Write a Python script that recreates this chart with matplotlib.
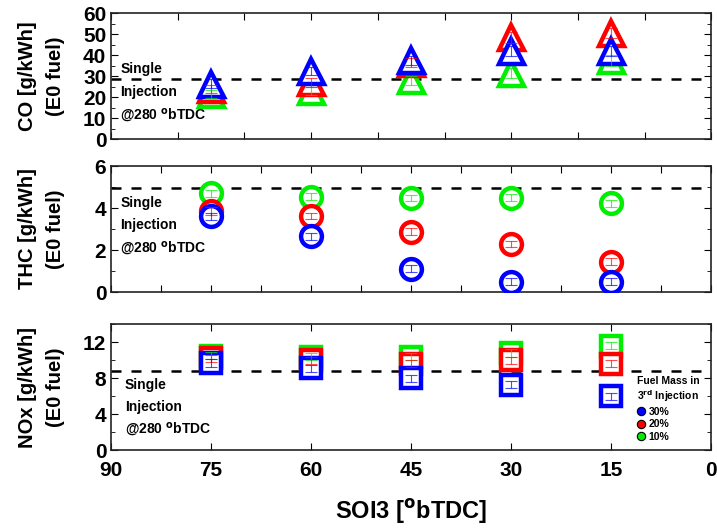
import matplotlib.pyplot as plt
from matplotlib.ticker import MultipleLocator
from matplotlib.lines import Line2D

plt.rcParams['font.family'] = ['Liberation Sans', 'DejaVu Sans']
plt.rcParams['font.weight'] = 'bold'
plt.rcParams['mathtext.default'] = 'bf'

soi3 = [75, 60, 45, 30, 15]
labels = ['30%', '20%', '10%']
colors = ['#0000ff', '#ff0000', '#00ee00']

co_30 = [26.5, 32.5, 37.5, 42.0, 42.0]
co_20 = [24.0, 27.0, 36.5, 48.5, 50.5]
co_10 = [21.5, 23.0, 28.0, 31.5, 37.5]
co_err = [2.0, 2.0, 2.0, 2.5, 2.5]
co_single = 28.5

thc_30 = [3.6, 2.65, 1.12, 0.5, 0.5]
thc_20 = [3.85, 3.62, 2.88, 2.3, 1.45]
thc_10 = [4.7, 4.55, 4.47, 4.5, 4.22]
thc_err = [0.18, 0.15, 0.15, 0.15, 0.15]
thc_single = 4.97

nox_30 = [9.7, 9.1, 8.0, 7.3, 6.0]
nox_20 = [10.2, 10.0, 9.6, 10.0, 9.6]
nox_10 = [10.5, 10.4, 10.4, 10.8, 11.6]
nox_err = [0.4, 0.4, 0.4, 0.4, 0.4]
nox_single = 8.8

fig = plt.figure(figsize=(7.17, 5.29), dpi=100)
ax_co = fig.add_axes([0.155, 0.737, 0.837, 0.238])
ax_thc = fig.add_axes([0.155, 0.448, 0.837, 0.238])
ax_nox = fig.add_axes([0.155, 0.149, 0.837, 0.238])

panels = [
    (ax_co, [co_30, co_20, co_10], co_err, co_single, '^', 18, (0, 60), 10, 5, 'CO [g/kWh]\n(E0 fuel)', 10),
    (ax_thc, [thc_30, thc_20, thc_10], thc_err, thc_single, 'o', 15, (0, 6), 2, 1, 'THC [g/kWh]\n(E0 fuel)', 7.5),
    (ax_nox, [nox_30, nox_20, nox_10], nox_err, nox_single, 's', 14, (0, 14), 4, 2, 'NOx [g/kWh]\n(E0 fuel)', 7.5),
]

for ax, series, err, single, mk, ms, ylim, major, minor, ylabel, xstep in panels:
    ax.axhline(single, color='black', linestyle=(0, (4, 4)), linewidth=1.8, zorder=1)
    for vals, c in zip(series[::-1], colors[::-1]):
        ax.plot(soi3, vals, linestyle='none', marker=mk, markersize=ms,
                markerfacecolor='white', markeredgecolor=c, markeredgewidth=3.2, zorder=3)
    for vals, c in zip(series[::-1], colors[::-1]):
        ax.errorbar(soi3, vals, yerr=err, fmt='none', ecolor=c, elinewidth=0.8,
                    capsize=4, capthick=0.8, alpha=0.7, zorder=4)
    ax.set_xlim(90, 0)
    ax.set_ylim(*ylim)
    ax.yaxis.set_major_locator(MultipleLocator(major))
    ax.yaxis.set_minor_locator(MultipleLocator(minor))
    ax.xaxis.set_major_locator(MultipleLocator(xstep))
    ax.tick_params(axis='both', which='both', direction='in', top=True, right=True,
                   labelright=False, labeltop=False)
    ax.tick_params(axis='both', which='major', length=5, labelsize=15)
    ax.tick_params(axis='y', which='minor', length=3)
    ax.tick_params(axis='x', labelbottom=False)
    for lab in ax.get_yticklabels():
        lab.set_fontweight('bold')
    for sp in ax.spines.values():
        sp.set_linewidth(1.2)
        sp.set_color('#222222')
    ax.set_ylabel(ylabel, fontsize=14.5, fontweight='bold', linespacing=1.6)
    ax.yaxis.set_label_coords(-0.077, 0.5)

# annotation text in each panel
text_pos = [(ax_co, 0.015, [0.556, 0.373, 0.19]),
            (ax_thc, 0.015, [0.71, 0.53, 0.35]),
            (ax_nox, 0.023, [0.52, 0.34, 0.17])]
for ax, tx, ys in text_pos:
    for s, ty in zip(['Single', 'Injection', '@280 $^{o}$bTDC'], ys):
        ax.text(tx, ty, s, transform=ax.transAxes, fontsize=10, fontweight='bold', va='center')

ax_nox.tick_params(axis='x', labelbottom=True, pad=8)
ax_nox.set_xticks([90, 75, 60, 45, 30, 15, 0])
ax_nox.set_xticklabels(['90', '75', '60', '45', '30', '15', '0'], fontweight='bold')
ax_nox.set_xlabel('SOI3 [$^{o}$bTDC]', fontsize=17, fontweight='bold', labelpad=12)

handles = [Line2D([], [], linestyle='none', marker='o', markersize=6,
                  markerfacecolor=c, markeredgecolor='black', markeredgewidth=0.8)
           for c in colors]
leg = ax_nox.legend(handles, labels, loc='lower right', bbox_to_anchor=(0.995, 0.0),
                    frameon=False, fontsize=7.5, title='Fuel Mass in\n3$^{rd}$ Injection',
                    title_fontsize=7.5, handlelength=0.8, handletextpad=0.3,
                    labelspacing=0.25, borderpad=0.3)
leg._legend_box.align = 'left'
leg.get_title().set_fontweight('bold')
for t in leg.get_texts():
    t.set_fontweight('bold')

fig.savefig('out.png', dpi=100)
